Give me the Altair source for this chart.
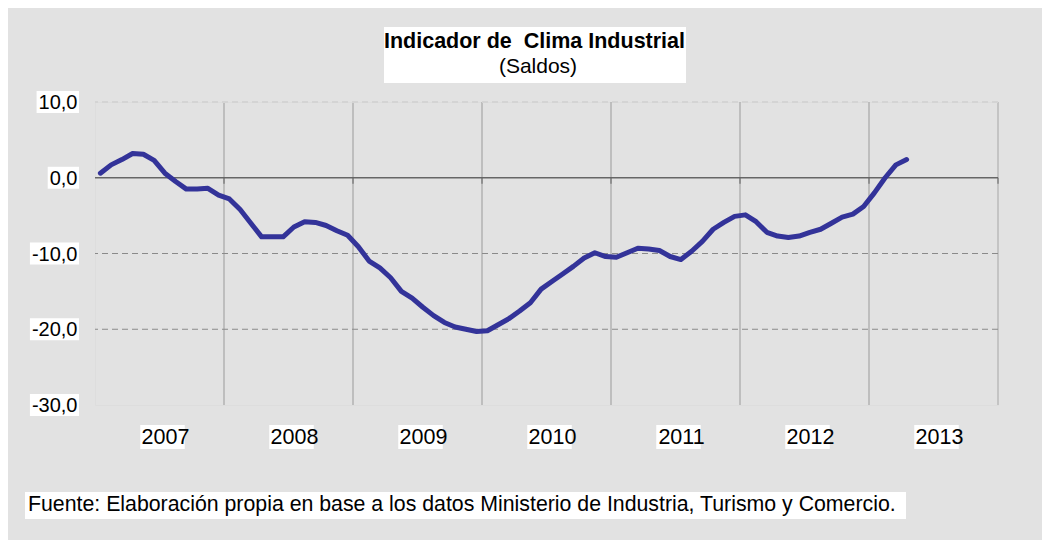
import altair as alt
import pandas as pd

years = ["2007", "2008", "2009", "2010", "2011", "2012", "2013"]
values = [0.6, 1.7, 2.4, 3.2, 3.1, 2.3, 0.6, -0.5, -1.5, -1.5, -1.4, -2.3,
          -2.8, -4.2, -6.0, -7.8, -7.8, -7.8, -6.5, -5.8, -5.9, -6.3, -7.0, -7.6,
          -9.1, -11.0, -11.9, -13.2, -15.0, -15.9, -17.1, -18.2, -19.1, -19.7, -20.0, -20.3,
          -20.2, -19.4, -18.6, -17.6, -16.5, -14.7, -13.7, -12.7, -11.7, -10.6, -9.9, -10.4,
          -10.5, -9.9, -9.3, -9.4, -9.6, -10.4, -10.8, -9.7, -8.4, -6.8, -5.9, -5.1,
          -4.9, -5.8, -7.2, -7.7, -7.9, -7.7, -7.2, -6.8, -6.0, -5.2, -4.8, -3.8,
          -2.0, 0.0, 1.7, 2.4]
y_ticks = [10, 0, -10, -20, -30]
y_labels = ["10,0", "0,0", "-10,0", "-20,0", "-30,0"]
dashed_grid = [-10, -20]
top_grid = [10]
title_text = "Indicador de \u00a0Clima Industrial"
subtitle_text = "(Saldos)"
source_text = "Fuente: Elaboración propia en base a los datos Ministerio de Industria, Turismo y Comercio."

FONT = "Liberation Sans"
n_months = 12 * len(years)
xs = alt.Scale(domain=[0, n_months], nice=False, zero=False)
ys = alt.Scale(domain=[-30, 10], nice=False, zero=False)

series = pd.DataFrame({"t": [i + 0.5 for i in range(len(values))], "v": values})
bounds = pd.DataFrame({"b": list(range(0, n_months + 1, 12)), "z": 0})
year_df = pd.DataFrame({"year": years, "c": [12 * k + 6 for k in range(len(years))]})


def text_w(s, size=20):
    w = 0.0
    for ch in s:
        if ch.isdigit():
            w += 0.556
        elif ch == ",":
            w += 0.278
        elif ch == "-":
            w += 0.333
        else:
            w += 0.5
    return w * size


ylab_df = pd.DataFrame({"v": y_ticks, "lab": y_labels,
                        "bx1": [-16 - text_w(s) - 3.5 for s in y_labels]})

inner = bounds[(bounds.b > 0) & (bounds.b < n_months)]
vlines = alt.Chart(inner).mark_rule(color="#9a9a9a", strokeWidth=1).encode(
    x=alt.X("b:Q", scale=xs, axis=None))
vlast = alt.Chart(bounds[bounds.b == n_months]).mark_rule(color="#c4c4c4", strokeWidth=2).encode(
    x=alt.X("b:Q", scale=xs, axis=None))

hgrid = alt.Chart(pd.DataFrame({"g": dashed_grid})).mark_rule(
    color="#8a8a8a", strokeWidth=1, strokeDash=[6, 4]).encode(
    y=alt.Y("g:Q", scale=ys, axis=alt.Axis(values=y_ticks, labels=False, grid=False, tickSize=6,
                                          tickColor="#555555", tickWidth=1.5, domainColor="#555555",
                                          domainWidth=1.5, title="")))
hgrid_top = alt.Chart(pd.DataFrame({"g": top_grid})).mark_rule(
    color="#d4d4d4", strokeWidth=2, strokeDash=[6, 4]).encode(
    y=alt.Y("g:Q", scale=ys, axis=None))

zero = alt.Chart(pd.DataFrame({"z": [0]})).mark_rule(color="#666666", strokeWidth=1.5).encode(
    y=alt.Y("z:Q", scale=ys, axis=None))

zticks = alt.Chart(bounds[bounds.b > 0]).mark_tick(
    orient="vertical", size=6, thickness=1.5, yOffset=3, color="#666666").encode(
    x=alt.X("b:Q", scale=xs, axis=None), y=alt.Y("z:Q", scale=ys, axis=None))

line = alt.Chart(series).mark_line(color="#333399", strokeWidth=5, strokeJoin="round",
                                   strokeCap="round").encode(
    x=alt.X("t:Q", scale=xs, axis=None), y=alt.Y("v:Q", scale=ys, axis=None))

# y labels with white boxes
ybox = alt.Chart(ylab_df).transform_calculate(
    y1="datum.v - 1.45", y2="datum.v + 1.45").mark_rect(color="white").encode(
    x=alt.X("bx1:Q", scale=None), x2=alt.value(-16),
    y=alt.Y("y1:Q", scale=ys, axis=None), y2="y2:Q")
ytext = alt.Chart(ylab_df).mark_text(font=FONT, fontSize=20, align="right", baseline="middle",
                                     color="black", dy=1).encode(
    x=alt.value(-17.5), y=alt.Y("v:Q", scale=ys, axis=None), text="lab:N")

# year labels with white boxes
xbox = alt.Chart(year_df).transform_calculate(
    x1="datum.c - 2.35", x2="datum.c + 2.35").mark_rect(color="white", xOffset=6).encode(
    x=alt.X("x1:Q", scale=xs, axis=None), x2="x2:Q",
    y=alt.value(323), y2=alt.value(347))
xtext = alt.Chart(year_df).mark_text(font=FONT, fontSize=21.5, align="center", baseline="middle",
                                     color="black", dx=6).encode(
    x=alt.X("c:Q", scale=xs, axis=None), y=alt.value(336), text="year:N")

one = pd.DataFrame({"title": [title_text], "sub": [subtitle_text], "src": [source_text]})
tbox = alt.Chart(one).mark_rect(color="white").encode(
    x=alt.value(289), x2=alt.value(591), y=alt.value(-75), y2=alt.value(-19))
ttext = alt.Chart(one).mark_text(font=FONT, fontSize=21.5, fontWeight="bold", align="center",
                                 baseline="alphabetic", color="black").encode(
    x=alt.value(439.5), y=alt.value(-54), text="title:N")
stext = alt.Chart(one).mark_text(font=FONT, fontSize=21, align="center",
                                 baseline="alphabetic", color="black").encode(
    x=alt.value(443), y=alt.value(-29), text="sub:N")
fbox = alt.Chart(one).mark_rect(color="white").encode(
    x=alt.value(-70), x2=alt.value(811), y=alt.value(390), y2=alt.value(417))
ftext = alt.Chart(one).mark_text(font=FONT, fontSize=21.3, align="left",
                                 baseline="alphabetic", color="black").encode(
    x=alt.value(-67), y=alt.value(409), text="src:N")

chart = alt.layer(vlines, vlast, hgrid, hgrid_top, zero, zticks, line, ybox, ytext, xbox, xtext,
                  tbox, ttext, stext, fbox, ftext).properties(
    width=903, height=303,
    background="#e2e2e2",
    padding={"left": 87, "top": 94, "right": 44, "bottom": 135},
    autosize=alt.AutoSizeParams(type="none"),
).configure_view(fill="white", stroke="transparent").configure(font=FONT)

chart.save("out.html", embed_options={"renderer": "svg", "actions": False})
